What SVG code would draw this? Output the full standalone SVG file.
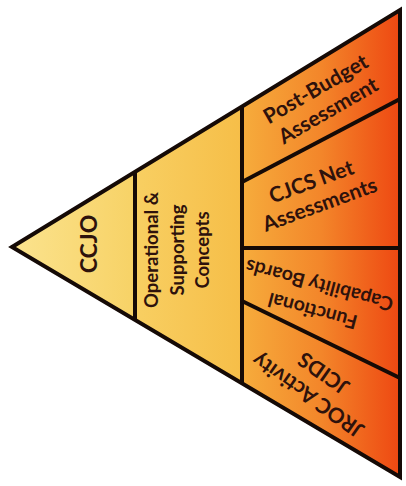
<svg xmlns="http://www.w3.org/2000/svg" width="406" height="486" viewBox="0 0 406 486">
<defs>
<linearGradient id="g1" gradientUnits="userSpaceOnUse" x1="12" y1="0" x2="135" y2="0">
<stop offset="0" stop-color="#FBE38E"/><stop offset="1" stop-color="#F7D266"/>
</linearGradient>
<linearGradient id="g2" gradientUnits="userSpaceOnUse" x1="135" y1="0" x2="242" y2="0">
<stop offset="0" stop-color="#F8CF62"/><stop offset="1" stop-color="#F6BE48"/>
</linearGradient>
<linearGradient id="g3" gradientUnits="userSpaceOnUse" x1="242" y1="0" x2="400" y2="0">
<stop offset="0" stop-color="#F6AC3C"/><stop offset="0.5" stop-color="#F3862A"/><stop offset="1" stop-color="#EE4812"/>
</linearGradient>
<style>
.t{font-family:Lato,"Open Sans","Liberation Sans",sans-serif;font-weight:bold;fill:#2e120c;text-anchor:middle}
.edge{fill:none;stroke:#150a06;stroke-width:4;stroke-linejoin:miter}
.s{font-size:21px}
</style>
</defs>
<g id="ccjo">
<polygon points="12,247 135,172 135,320" fill="url(#g1)"/>
<text class="t" style="font-size:23px" transform="translate(89,244) rotate(-90)" y="8">CCJO</text>
</g>
<g id="concepts">
<polygon points="135,172 242,107 242,384 135,320" fill="url(#g2)"/>
<g class="t" style="font-size:18.5px" transform="translate(177,250) rotate(-90)">
<text y="-19">Operational &amp;</text>
<text y="6.5">Supporting</text>
<text y="32">Concepts</text>
</g>
</g>
<g id="post-budget">
<polygon points="242,107 400,10 400,99 242,182" fill="url(#g3)"/>
<g class="t s" transform="translate(322,100) rotate(-30)">
<text y="-5.5">Post-Budget</text>
<text y="19.5">Assessment</text>
</g>
</g>
<g id="cjcs">
<polygon points="242,182 400,99 400,248 242,248" fill="url(#g3)"/>
<g class="t s" transform="translate(315.5,193) rotate(-20)">
<text y="-5">CJCS Net</text>
<text y="19.5">Assessments</text>
</g>
</g>
<g id="fcb">
<polygon points="242,248 400,248 400,378 242,301" fill="url(#g3)"/>
<g class="t" style="font-size:19.5px" transform="translate(316,298) rotate(195)">
<text y="-6.5">Functional</text>
<text y="20">Capability Boards</text>
</g>
</g>
<g id="jroc">
<polygon points="242,301 400,378 400,477 242,384" fill="url(#g3)"/>
<g class="t s" transform="translate(316,384) rotate(215)">
<text y="-6.5">JROC Activity</text>
<text y="20.5">JCIDS</text>
</g>
</g>
<g id="connectors">
<polygon class="edge" points="12,247 400,10 400,477"/>
<line class="edge" x1="135" y1="172" x2="135" y2="320"/>
<line class="edge" x1="242" y1="107" x2="242" y2="384"/>
<line class="edge" x1="242" y1="182" x2="400" y2="99"/>
<line class="edge" x1="242" y1="248" x2="400" y2="248"/>
<line class="edge" x1="242" y1="301" x2="400" y2="378"/>
</g>
</svg>
